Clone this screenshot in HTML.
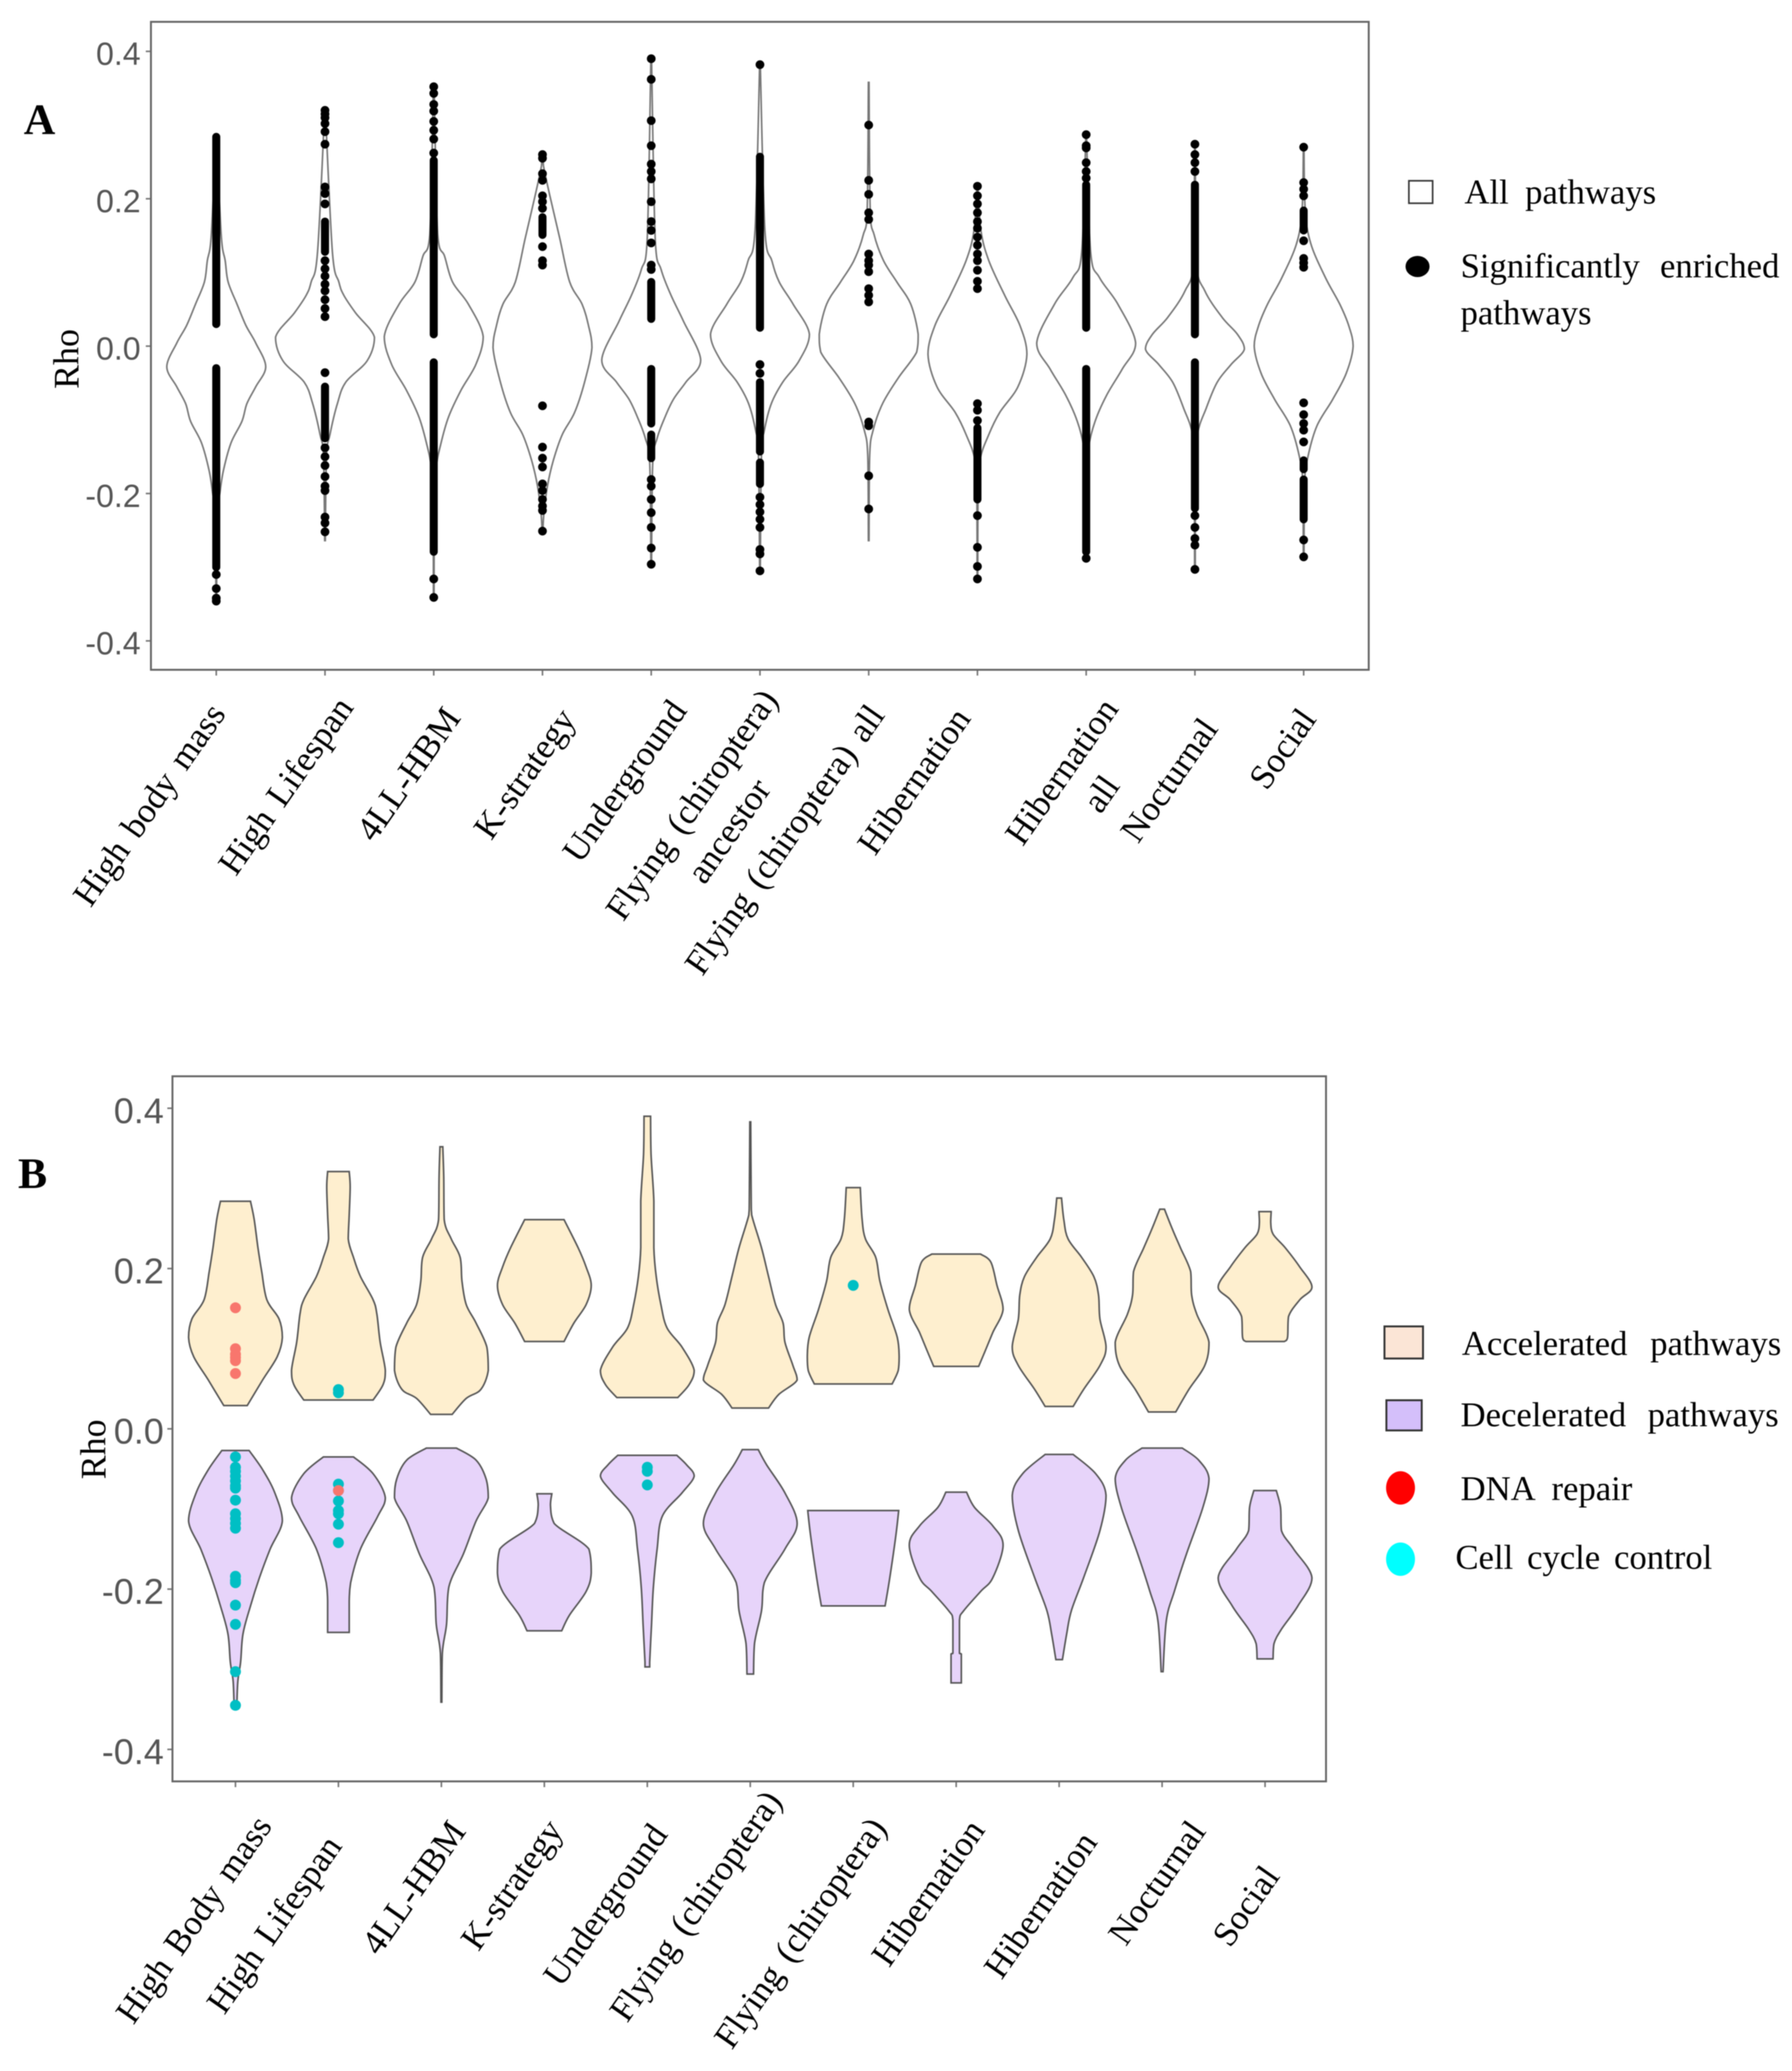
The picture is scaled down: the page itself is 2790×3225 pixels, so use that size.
<!DOCTYPE html>
<html lang="en">
<head>
<meta charset="utf-8">
<title>Rho distributions of pathways across mammalian traits</title>
<style>
html,body{margin:0;padding:0;background:#fff;}
svg{display:block;filter:blur(0.7px);}
.serif{font-family:"Liberation Serif",serif;fill:#000;}
.xl{font-family:"Liberation Serif",serif;font-size:55px;fill:#000;text-anchor:end;word-spacing:6px;}
.lg{font-family:"Liberation Serif",serif;font-size:54px;fill:#000;word-spacing:14px;}
.yt{font-family:"Liberation Sans",sans-serif;fill:#555;text-anchor:end;}
</style>
</head>
<body>
<svg id="figure" xmlns="http://www.w3.org/2000/svg" width="2790" height="3225" viewBox="0 0 2790 3225">
<rect width="2790" height="3225" fill="#fff"/>

<text class="serif" x="37" y="209" font-size="68" font-weight="bold">A</text>
<text class="serif" x="28" y="1850" font-size="68" font-weight="bold">B</text>

<g id="panelA"></g>
<g id="panelB"></g>

<rect x="235" y="34" width="1896" height="1009" fill="none" stroke="#666" stroke-width="3"/>
<rect x="268.500" y="1676" width="1796" height="1098" fill="none" stroke="#666" stroke-width="3"/>

<text class="serif" transform="translate(122 559) rotate(-90)" text-anchor="middle" font-size="56">Rho</text>
<text class="serif" transform="translate(164 2257) rotate(-90)" text-anchor="middle" font-size="56">Rho</text>

<g>
<text class="xl" transform="translate(353 1112) rotate(-55)">High body mass</text>
<text class="xl" transform="translate(552 1102) rotate(-55)">High Lifespan</text>
<text class="xl" transform="translate(719 1118) rotate(-55)">4LL-HBM</text>
<text class="xl" transform="translate(898 1120) rotate(-55)">K-strategy</text>
<text class="xl" transform="translate(1071 1107) rotate(-55)">Underground</text>
<text class="xl" transform="translate(1213 1090) rotate(-55)">Flying (chiroptera)</text>
<text class="xl" transform="translate(1202 1229) rotate(-55)">ancestor</text>
<text class="xl" transform="translate(1379 1114) rotate(-55)">Flying (chiroptera) all</text>
<text class="xl" transform="translate(1513 1119) rotate(-55)">Hibernation</text>
<text class="xl" transform="translate(1743 1104) rotate(-55)">Hibernation</text>
<text class="xl" transform="translate(1745 1224) rotate(-55)">all</text>
<text class="xl" transform="translate(1898 1135) rotate(-55)">Nocturnal</text>
<text class="xl" transform="translate(2051 1120) rotate(-55)">Social</text>
</g>

<g>
<text class="xl" transform="translate(425 2844) rotate(-55)">High Body mass</text>
<text class="xl" transform="translate(534 2875) rotate(-55)">High Lifespan</text>
<text class="xl" transform="translate(727 2852) rotate(-55)">4LL-HBM</text>
<text class="xl" transform="translate(878 2850) rotate(-55)">K-strategy</text>
<text class="xl" transform="translate(1041 2857) rotate(-55)">Underground</text>
<text class="xl" transform="translate(1219 2805) rotate(-55)">Flying (chiroptera)</text>
<text class="xl" transform="translate(1382 2847) rotate(-55)">Flying (chiroptera)</text>
<text class="xl" transform="translate(1535 2850) rotate(-55)">Hibernation</text>
<text class="xl" transform="translate(1710 2869) rotate(-55)">Hibernation</text>
<text class="xl" transform="translate(1879 2852) rotate(-55)">Nocturnal</text>
<text class="xl" transform="translate(1994 2922) rotate(-55)">Social</text>
</g>

<g>
<rect x="2193.500" y="281.500" width="37" height="35" fill="#fff" stroke="#333" stroke-width="2.500"/>
<text class="lg" x="2280" y="317" style="word-spacing:12px">All pathways</text>
<ellipse cx="2207" cy="415" rx="18.700" ry="16.500" fill="#000"/>
<text class="lg" x="2274" y="432" style="word-spacing:18px">Significantly enriched</text>
<text class="lg" x="2274" y="505">pathways</text>
</g>

<g>
<rect x="2155.500" y="2065.500" width="60" height="50" fill="#FBE5D6" stroke="#333" stroke-width="3"/>
<text class="lg" x="2276" y="2110" style="word-spacing:22px">Accelerated pathways</text>
<rect x="2158.500" y="2180.500" width="55" height="47" fill="#D4BFFA" stroke="#333" stroke-width="3"/>
<text class="lg" x="2274" y="2221" style="word-spacing:20px">Decelerated pathways</text>
<ellipse cx="2180.500" cy="2317" rx="22.500" ry="26" fill="#FF0000"/>
<text class="lg" x="2274" y="2336">DNA repair</text>
<ellipse cx="2180.500" cy="2428" rx="22.500" ry="26" fill="#00FFFF"/>
<text class="lg" x="2266" y="2443" style="word-spacing:8px">Cell cycle control</text>
</g>

<script>
const yTickValues = [0.4, 0.2, 0.0, -0.2, -0.4];
const yTickLabels = ["0.4", "0.2", "0.0", "-0.2", "-0.4"];
const categoriesA = ["High body mass","High Lifespan","4LL-HBM","K-strategy","Underground","Flying (chiroptera) ancestor","Flying (chiroptera) all","Hibernation","Hibernation all","Nocturnal","Social"];
const categoriesB = ["High Body mass","High Lifespan","4LL-HBM","K-strategy","Underground","Flying (chiroptera)","Flying (chiroptera)","Hibernation","Hibernation","Nocturnal","Social"];

/* Panel A: violin outlines (rho level, relative density %) */
const violinRhoA = [
[.287,.151,.116,.087,.057,.028,.004,-.028,-.055,-.078,-.102,-.131,-.167,-.196,-.237,-.346],
[.32,.128,.087,.069,.045,.012,-.02,-.049,-.078,-.12,-.15,-.264],
[.355,.151,.122,.087,.057,.013,-.025,-.06,-.096,-.131,-.167,-.237,-.342],
[.263,.245,.204,.146,.087,.057,.028,-.002,-.049,-.09,-.12,-.155,-.19,-.226,-.252],
[.39,.146,.104,.069,.034,-.019,-.049,-.072,-.096,-.125,-.16,-.296],
[.382,.157,.116,.087,.057,.016,-.02,-.049,-.078,-.114,-.149,-.305],
[.358,.187,.151,.116,.087,.057,.016,-.008,-.043,-.078,-.114,-.149,-.264],
[.219,.157,.116,.069,.028,-.011,-.055,-.09,-.12,-.155,-.208,-.317],
[.287,.128,.093,.057,.004,-.031,-.067,-.102,-.137,-.178,-.29],
[.275,.116,.075,.039,.016,-.004,-.025,-.049,-.084,-.12,-.178,-.305],
[.269,.187,.14,.093,.057,.028,0,-.037,-.072,-.108,-.149,-.184,-.288]
];
const violinWidthA = [
[.7,10,18,24,42,60,80,100,80,62,52,30,15,8,2,.7],
[.7,15,28,38,62,100,85,42,25,10,3,.7],
[.7,8,22,38,70,100,85,55,30,15,5,1,.7],
[.7,2,15,35,55,80,93,100,85,65,40,22,10,3,.7],
[.7,8,20,40,65,100,70,45,28,12,3,.7],
[.7,10,24,39,67,100,79,46,23,9,3,.7],
[.7,3,11,30,57,85,100,97,60,28,9,2,.7],
[.7,7,23,55,86,100,82,45,23,5,1,.7],
[.7,9,27,64,100,73,41,18,5,1,.7],
[.7,3,20,55,86,100,73,45,23,5,1,.7],
[.7,3,14,44,73,91,100,86,59,27,9,2,.7]
];
/* Panel A: runs of overlapping significant pathways [low, high] */
const denseRangesA = [
[[.03,.284],[-.3,-.03]],
[[.128,.169],[-.125,-.055]],
[[.016,.252],[-.279,-.022]],
[[.151,.175]],
[[.037,.087],[-.105,-.031],[-.152,-.12]],
[[.025,.257],[-.143,-.049],[-.187,-.158]],
[],
[[-.208,-.111]],
[[.025,.219],[-.279,-.031]],
[[.016,.219],[-.22,-.022]],
[[.157,.184],[-.167,-.155],[-.235,-.181]]
];
/* Panel A: individual significant pathways */
const pointsA = [
[-.31,-.329,-.342,-.346],
[.32,.315,.31,.302,.291,.274,.216,.207,.193,.116,.105,.095,.084,.075,.063,.051,.04,-.036,-.138,-.15,-.162,-.177,-.19,-.196,-.232,-.24,-.252],
[.352,.343,.328,.319,.305,.293,.281,.262,-.316,-.341],
[.26,.255,.234,.225,.204,.196,.187,.135,.116,.11,-.081,-.137,-.152,-.164,-.187,-.196,-.208,-.217,-.223,-.251],
[.39,.362,.306,.272,.247,.237,.227,.196,.169,.157,.14,.11,.104,-.181,-.19,-.208,-.226,-.246,-.274,-.296],
[.382,-.025,-.037,-.205,-.215,-.225,-.235,-.246,-.276,-.282,-.305],
[.3,.225,.206,.181,.172,.125,.116,.11,.101,.078,.069,.06,-.103,-.108,-.176,-.221],
[.217,.204,.193,.181,.169,.16,.148,.137,.125,.116,.103,.088,.078,-.078,-.087,-.101,-.23,-.273,-.299,-.316],
[.287,.272,.269,.249,.237,.228,-.288],
[.274,.26,.249,.237,-.23,-.246,-.261,-.27,-.303],
[.27,.222,.213,.204,.143,.119,.113,.107,-.077,-.093,-.105,-.114,-.13,-.263,-.286]
];

/* Panel B: accelerated violins */
const accRho = [
[.284,.261,.226,.196,.161,.137,.114,.090,.061,.029],
[.321,.302,.267,.237,.214,.190,.161,.143,.108,.073,.055,.036],
[.352,.314,.261,.237,.214,.184,.155,.132,.102,.073,.049,.038,.018],
[.261,.226,.202,.179,.155,.132,.109],
[.390,.343,.284,.226,.190,.155,.126,.102,.073,.055,.039],
[.383,.284,.267,.226,.190,.155,.132,.108,.079,.061,.043,.026],
[.301,.261,.237,.214,.184,.149,.114,.090,.073,.056],
[.218,.208,.179,.149,.120,.096,.078],
[.288,.261,.237,.214,.190,.167,.137,.102,.079,.049,.028],
[.274,.249,.226,.196,.167,.143,.108,.079,.049,.021],
[.271,.258,.243,.226,.202,.177,.161,.140,.114,.109]
];
const accWidth = [
[32,40,48,56,67,93,100,89,58,25],
[23,25,23,21,32,47,74,82,89,100,95,74],
[3,5,6,21,40,44,53,74,97,100,84,53,23],
[42,72,89,100,89,63,42],
[7,8,14,14,19,29,42,74,100,89,65],
[1,2,3,24,39,54,70,74,91,100,61,39],
[15,19,26,48,57,74,94,98,96,83],
[52,74,87,100,78,61,48],
[5,10,19,48,74,84,87,100,87,52,30],
[5,22,39,61,63,74,100,91,57,29],
[13,12,17,43,74,100,74,50,48,41]
];
/* Panel B: decelerated violins */
const decRho = [
[-.027,-.051,-.080,-.115,-.150,-.186,-.221,-.256,-.291,-.315,-.345],
[-.035,-.056,-.086,-.109,-.150,-.192,-.215,-.254],
[-.024,-.039,-.062,-.086,-.115,-.156,-.197,-.244,-.280,-.341],
[-.081,-.095,-.118,-.150,-.180,-.203,-.233,-.252],
[-.033,-.045,-.059,-.080,-.109,-.150,-.197,-.244,-.291,-.297],
[-.026,-.045,-.080,-.118,-.150,-.192,-.227,-.268,-.306],
[-.102,-.133,-.186,-.221],
[-.079,-.098,-.121,-.145,-.186,-.203,-.227,-.239,-.280,-.281,-.317],
[-.032,-.056,-.083,-.127,-.186,-.227,-.256,-.288],
[-.024,-.039,-.062,-.098,-.156,-.203,-.239,-.303],
[-.077,-.098,-.127,-.150,-.186,-.221,-.250,-.268,-.287]
];
const decWidth = [
[29,58,84,100,74,51,32,16,11,5,3],
[32,74,100,84,47,26,23,23],
[32,74,95,100,74,47,16,11,2,1],
[16,13,21,95,100,89,53,37],
[63,84,100,74,32,21,13,9,5,5],
[17,35,74,100,74,30,24,9,7],
[97,91,78,68],
[22,39,78,100,78,52,16,7,7,11,11],
[30,78,100,87,52,26,16,7],
[43,78,100,87,52,26,9,2],
[24,33,35,61,100,70,35,19,17]
];
/* Panel B: highlighted pathways */
const cellCyclePoints = [
[.049,.045],
[-.035,-.048,-.053,-.059,-.065,-.071,-.074,-.089,-.106,-.112,-.118,-.124,-.184,-.189,-.192,-.22,-.244,-.303,-.345],
[-.069,-.077,-.09,-.102,-.106,-.119,-.142],
[-.048,-.053,-.07],
[.179]
];
const cellCycleCategory = [1,0,1,4,6];
const dnaRepairPoints = [
[.151,.100,.093,.089,.085,.069],
[-.077]
];
const dnaRepairCategory = [0,1];

const NS = "http://www.w3.org/2000/svg";
function mk(parent, tag, attrs){
  const el = document.createElementNS(NS, tag);
  for (const k in attrs) el.setAttribute(k, attrs[k]);
  parent.appendChild(el);
  return el;
}
function clamp(v, a, b){
  const lo = Math.min(a,b), hi = Math.max(a,b);
  return Math.min(hi, Math.max(lo, v));
}
function side(pts){
  let d = "";
  for (let i = 0; i < pts.length - 1; i++){
    const p0 = pts[Math.max(i-1,0)], p1 = pts[i], p2 = pts[i+1], p3 = pts[Math.min(i+2,pts.length-1)];
    const c1x = clamp(p1[0] + (p2[0]-p0[0])/6, p1[0], p2[0]), c1y = clamp(p1[1] + (p2[1]-p0[1])/6, p1[1], p2[1]);
    const c2x = clamp(p2[0] - (p3[0]-p1[0])/6, p1[0], p2[0]), c2y = clamp(p2[1] - (p3[1]-p1[1])/6, p1[1], p2[1]);
    d += "C" + c1x.toFixed(1) + " " + c1y.toFixed(1) + " " + c2x.toFixed(1) + " " + c2y.toFixed(1) + " " + p2[0].toFixed(1) + " " + p2[1].toFixed(1);
  }
  return d;
}
function violinPath(cx, rhos, widths, yScale, maxHalf){
  const right = rhos.map((r,i) => [cx + widths[i]/100*maxHalf, yScale(r)]);
  const left = rhos.map((r,i) => [cx - widths[i]/100*maxHalf, yScale(r)]).reverse();
  return "M" + right[0][0].toFixed(1) + " " + right[0][1].toFixed(1) + side(right) +
         "L" + left[0][0].toFixed(1) + " " + left[0][1].toFixed(1) + side(left) + "Z";
}

function drawAxes(group, cats, xScale, yScale, frameLeft, frameBottom, tickEnd, fontSize, baseOff, prefix){
  yTickValues.forEach((v,i) => {
    const tick = mk(group, "line", {x1: frameLeft-8, x2: frameLeft, y1: yScale(v), y2: yScale(v), stroke: "#777", "stroke-width": 2.5});
    
    
    const t = mk(group, "text", {x: tickEnd, y: yScale(v)+baseOff, class: "yt", "font-size": fontSize});
    t.textContent = yTickLabels[i];
    
    
  });
  cats.forEach((c,i) => {
    const tick = mk(group, "line", {x1: xScale(i), x2: xScale(i), y1: frameBottom, y2: frameBottom+9, stroke: "#777", "stroke-width": 2.5});
    
    
  });
}

/* Panel A */
const gA = document.getElementById("panelA");
const xA = i => 336.7 + 169.3*i;
const yA = v => 539 - 1147.5*v;
drawAxes(gA, categoriesA, xA, yA, 235, 1043, 219, 50, 21, "panel-a");
categoriesA.forEach((c,i) => {
  const path = mk(gA, "path", {d: violinPath(xA(i), violinRhoA[i], violinWidthA[i], yA, 77), fill: "none", stroke: "#777", "stroke-width": 2.5});
  
  
  denseRangesA[i].forEach(r => {
    const run = mk(gA, "line", {x1: xA(i), x2: xA(i), y1: yA(r[0]), y2: yA(r[1]), stroke: "#000", "stroke-width": 12.5, "stroke-linecap": "round"});
    
    
  });
  pointsA[i].forEach(v => {
    const dot = mk(gA, "circle", {cx: xA(i), cy: yA(v), r: 6.8, fill: "#000"});
    
    
  });
});

/* Panel B */
const gB = document.getElementById("panelB");
const xB = i => 366.6 + 160.3*i;
const yB = v => 2225 - 1248*v;
drawAxes(gB, categoriesB, xB, yB, 268.5, 2774, 255, 56, 23, "panel-b");
categoriesB.forEach((c,i) => {
  const acc = mk(gB, "path", {d: violinPath(xB(i), accRho[i], accWidth[i], yB, 73), fill: "#FEEFCF", stroke: "#555", "stroke-width": 2.5});
  
  
  const dec = mk(gB, "path", {d: violinPath(xB(i), decRho[i], decWidth[i], yB, 73), fill: "#E7D4FA", stroke: "#555", "stroke-width": 2.5});
  
  
});
cellCyclePoints.forEach((vals,k) => {
  vals.forEach(v => {
    const dot = mk(gB, "circle", {cx: xB(cellCycleCategory[k]), cy: yB(v), r: 8.5, fill: "#00BFC4"});
    
    
  });
});
dnaRepairPoints.forEach((vals,k) => {
  vals.forEach(v => {
    const dot = mk(gB, "circle", {cx: xB(dnaRepairCategory[k]), cy: yB(v), r: 8.5, fill: "#F8766D"});
    
    
  });
});
</script>
</svg>
</body>
</html>
